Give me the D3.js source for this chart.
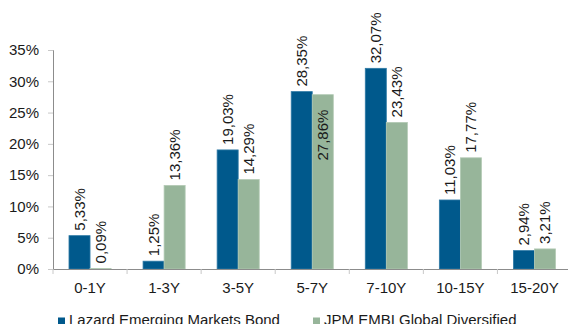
<!DOCTYPE html>
<html>
<head>
<meta charset="utf-8">
<script src="https://cdn.jsdelivr.net/npm/d3@7"></script>
<style>
  body { margin: 0; background: #fff; }
  svg { display: block; font-family: "Liberation Sans", Arial, sans-serif; overflow: hidden; }
</style>
</head>
<body>
<div id="chart"></div>
<script>
// chart data
const categories = ['0-1Y', '1-3Y', '3-5Y', '5-7Y', '7-10Y', '10-15Y', '15-20Y'];
const seriesNames = ['Lazard Emerging Markets Bond', 'JPM EMBI Global Diversified'];
const lazardValues = [5.33, 1.25, 19.03, 28.35, 32.07, 11.03, 2.94];
const jpmValues = [0.09, 13.36, 14.29, 27.86, 23.43, 17.77, 3.21];
const yTicks = [0, 5, 10, 15, 20, 25, 30, 35];

const colors = ['#00598C', '#97B59A'];
const width = 568, height = 324;
const margin = { top: 50, left: 53, bottom: 55 };
const plotRight = 571.5;

const fmt = v => v.toFixed(2).replace('.', ',') + '%';

const svg = d3.select('#chart')
    .append('svg')
    .attr('width', width)
    .attr('height', height);

// scales
const x = d3.scaleBand()
    .domain(categories)
    .range([margin.left, plotRight])
    .padding(0);

const xInner = d3.scaleBand()
    .domain(seriesNames)
    .range([0, x.bandwidth()])
    .paddingInner(0)
    .paddingOuter(0.76);

const y = d3.scaleLinear()
    .domain([0, 35])
    .range([height - margin.bottom, margin.top]);

// y axis
const yAxis = svg.append('g')
    .attr('transform', `translate(${margin.left},0)`)
    .call(d3.axisLeft(y).tickValues(yTicks).tickSize(5).tickPadding(9).tickFormat(d => d + '%'));
yAxis.select('.domain').attr('stroke', '#8c8c8c');
yAxis.selectAll('.tick line').attr('stroke', '#c8c8c8');
yAxis.selectAll('.tick text')
    .attr('fill', '#1a1a1a')
    .style('font-size', '15px');

// bars
const rows = categories.map((c, i) => ({ cat: c, values: [lazardValues[i], jpmValues[i]] }));

const groups = svg.selectAll('g.group')
    .data(rows)
    .enter()
    .append('g')
    .attr('class', 'group')
    .attr('transform', d => `translate(${x(d.cat)},0)`);

groups.selectAll('rect')
    .data(d => d.values.map((v, k) => ({ name: seriesNames[k], value: v, k: k, cat: d.cat })))
    .enter()
    .append('rect')
    .attr('x', d => xInner(d.name))
    .attr('y', d => y(d.value))
    .attr('width', xInner.bandwidth())
    .attr('height', d => y(0) - y(d.value))
    .attr('fill', d => colors[d.k])
    .attr('stroke', d => d.k === 0 ? '#2f7aa6' : '#b3cab5')
    .attr('stroke-width', 0.8);

// value labels (rotated)
groups.selectAll('text.val')
    .data(d => d.values.map((v, k) => ({ name: seriesNames[k], value: v, k: k, cat: d.cat })))
    .enter()
    .append('text')
    .attr('class', 'val')
    .attr('transform', d => {
        const cx = xInner(d.name) + xInner.bandwidth() / 2;
        // the 5-7Y benchmark label sits inside its bar
        const inside = d.cat === '5-7Y' && d.k === 1;
        const cy = inside ? y(d.value) + 15 : y(d.value) - 5;
        return `translate(${cx},${cy}) rotate(-90)`;
    })
    .attr('text-anchor', d => (d.cat === '5-7Y' && d.k === 1) ? 'end' : 'start')
    .attr('dy', '0.35em')
    .attr('fill', '#1a1a1a')
    .style('font-size', '15px')
    .text(d => fmt(d.value));

// x axis
const xAxis = svg.append('g')
    .attr('transform', `translate(0,${y(0)})`)
    .call(d3.axisBottom(x).tickSize(0).tickPadding(13));
xAxis.select('.domain').attr('stroke', '#8c8c8c');
xAxis.selectAll('.tick text')
    .attr('fill', '#1a1a1a')
    .style('font-size', '15px');

// category boundary ticks
const bounds = categories.map(c => x(c)).concat([x.range()[1]]);
svg.append('g')
    .selectAll('line')
    .data(bounds)
    .enter()
    .append('line')
    .attr('x1', d => d).attr('x2', d => d)
    .attr('y1', y(0)).attr('y2', y(0) + 5)
    .attr('stroke', '#c8c8c8');

// legend
const legendX = [58, 313];
const legend = svg.append('g');
seriesNames.forEach((name, k) => {
    legend.append('rect')
        .attr('x', legendX[k])
        .attr('y', 317.5)
        .attr('width', 7)
        .attr('height', 7)
        .attr('fill', colors[k]);
    legend.append('text')
        .attr('x', legendX[k] + 11)
        .attr('y', 325)
        .attr('fill', '#1a1a1a')
        .style('font-size', '15px')
        .text(name);
});
</script>
</body>
</html>
